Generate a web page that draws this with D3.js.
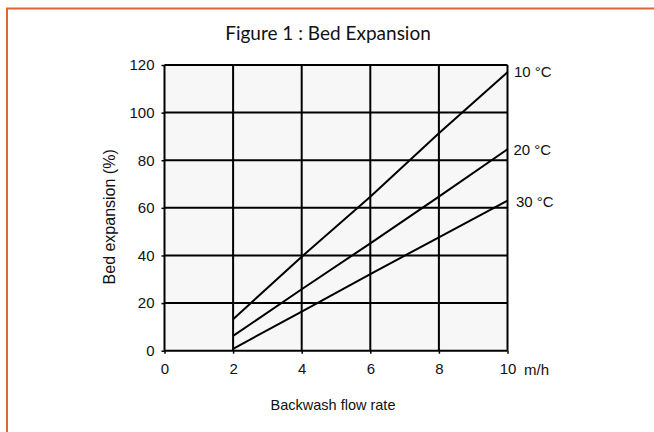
<!DOCTYPE html>
<html><head><meta charset="utf-8">
<script src="https://cdn.jsdelivr.net/npm/d3@7"></script>
<style>body{margin:0;background:#fff;} svg{display:block;}</style>
</head><body>
<svg id="c" width="654" height="432"></svg>
<script>
const flowRates = [2, 4, 6, 8, 10];
const exp10 = [13.2, 39.5, 64.7, 91.3, 117];
const exp20 = [6.2, 25.8, 45.1, 64.7, 84.6];
const exp30 = [0.8, 16.4, 32.2, 47.6, 63];
const seriesNames = ["10 °C", "20 °C", "30 °C"];
const xTicks = [0, 2, 4, 6, 8, 10];
const yTicks = [0, 20, 40, 60, 80, 100, 120];

const svg = d3.select("#c");
const pLeft = 164.5, pRight = 507.5, pTop = 65, pBottom = 350.7;
const x = d3.scaleLinear().domain([0, 10]).range([pLeft, pRight]);
const y = d3.scaleLinear().domain([0, 120]).range([pBottom, pTop]);

// page border
svg.append("rect").attr("x", 7).attr("y", 8.5).attr("width", 700).attr("height", 500)
  .attr("fill", "none").attr("stroke", "#d9673a").attr("stroke-width", 2);

// plot background
svg.append("rect").attr("x", pLeft).attr("y", pTop).attr("width", pRight - pLeft).attr("height", pBottom - pTop)
  .attr("fill", "#f7f7f7");

// gridlines
const g = svg.append("g").attr("stroke", "#000").attr("stroke-width", 2);
yTicks.forEach(v => g.append("line").attr("x1", x(0)).attr("x2", x(10)).attr("y1", y(v)).attr("y2", y(v)));
xTicks.forEach(v => g.append("line").attr("x1", x(v)).attr("x2", x(v)).attr("y1", y(0)).attr("y2", y(120)));

// axes
const font = "'Liberation Sans', Arial, sans-serif";
const yAxis = svg.append("g").attr("transform", `translate(${pLeft},0)`)
  .call(d3.axisLeft(y).tickValues(yTicks).tickSize(3).tickPadding(7));
const xAxis = svg.append("g").attr("transform", `translate(0,${pBottom})`)
  .call(d3.axisBottom(x).tickValues(xTicks).tickSize(3).tickPadding(10));
[yAxis, xAxis].forEach(a => {
  a.select(".domain").remove();
  a.selectAll("line").attr("stroke", "#000").attr("stroke-width", 1.5);
  a.selectAll("text").attr("font-family", font).attr("font-size", 15).attr("fill", "#111");
});

// series lines
const line = d3.line().x((d, i) => x(flowRates[i])).y(d => y(d));
const labelDx = [6.5, 6, 8.5], labelDy = [5, 5.5, 6.5];
[exp10, exp20, exp30].forEach((s, k) => {
  svg.append("path").attr("d", line(s)).attr("fill", "none").attr("stroke", "#000").attr("stroke-width", 2);
  svg.append("text").attr("x", x(10) + labelDx[k]).attr("y", y(s[s.length - 1]) + labelDy[k])
    .attr("font-family", font).attr("font-size", 15).attr("fill", "#111").text(seriesNames[k]);
});

// units
svg.append("text").attr("x", 524).attr("y", 375).attr("font-family", font).attr("font-size", 15).attr("fill", "#111").text("m/h");

// axis titles
svg.append("text").attr("x", 333).attr("y", 410).attr("text-anchor", "middle")
  .attr("font-family", font).attr("font-size", 14.5).attr("fill", "#111").text("Backwash flow rate");
svg.append("text").attr("transform", `translate(115,${(pTop + pBottom) / 2 + 9}) rotate(-90)`).attr("text-anchor", "middle")
  .attr("font-family", font).attr("font-size", 16).attr("fill", "#111").text("Bed expansion (%)");

// title
svg.append("text").attr("x", 328).attr("y", 40).attr("text-anchor", "middle")
  .attr("font-family", "Lato, 'Open Sans', sans-serif").attr("font-size", 19).attr("fill", "#111")
  .text("Figure 1 : Bed Expansion");
</script>
</body></html>
